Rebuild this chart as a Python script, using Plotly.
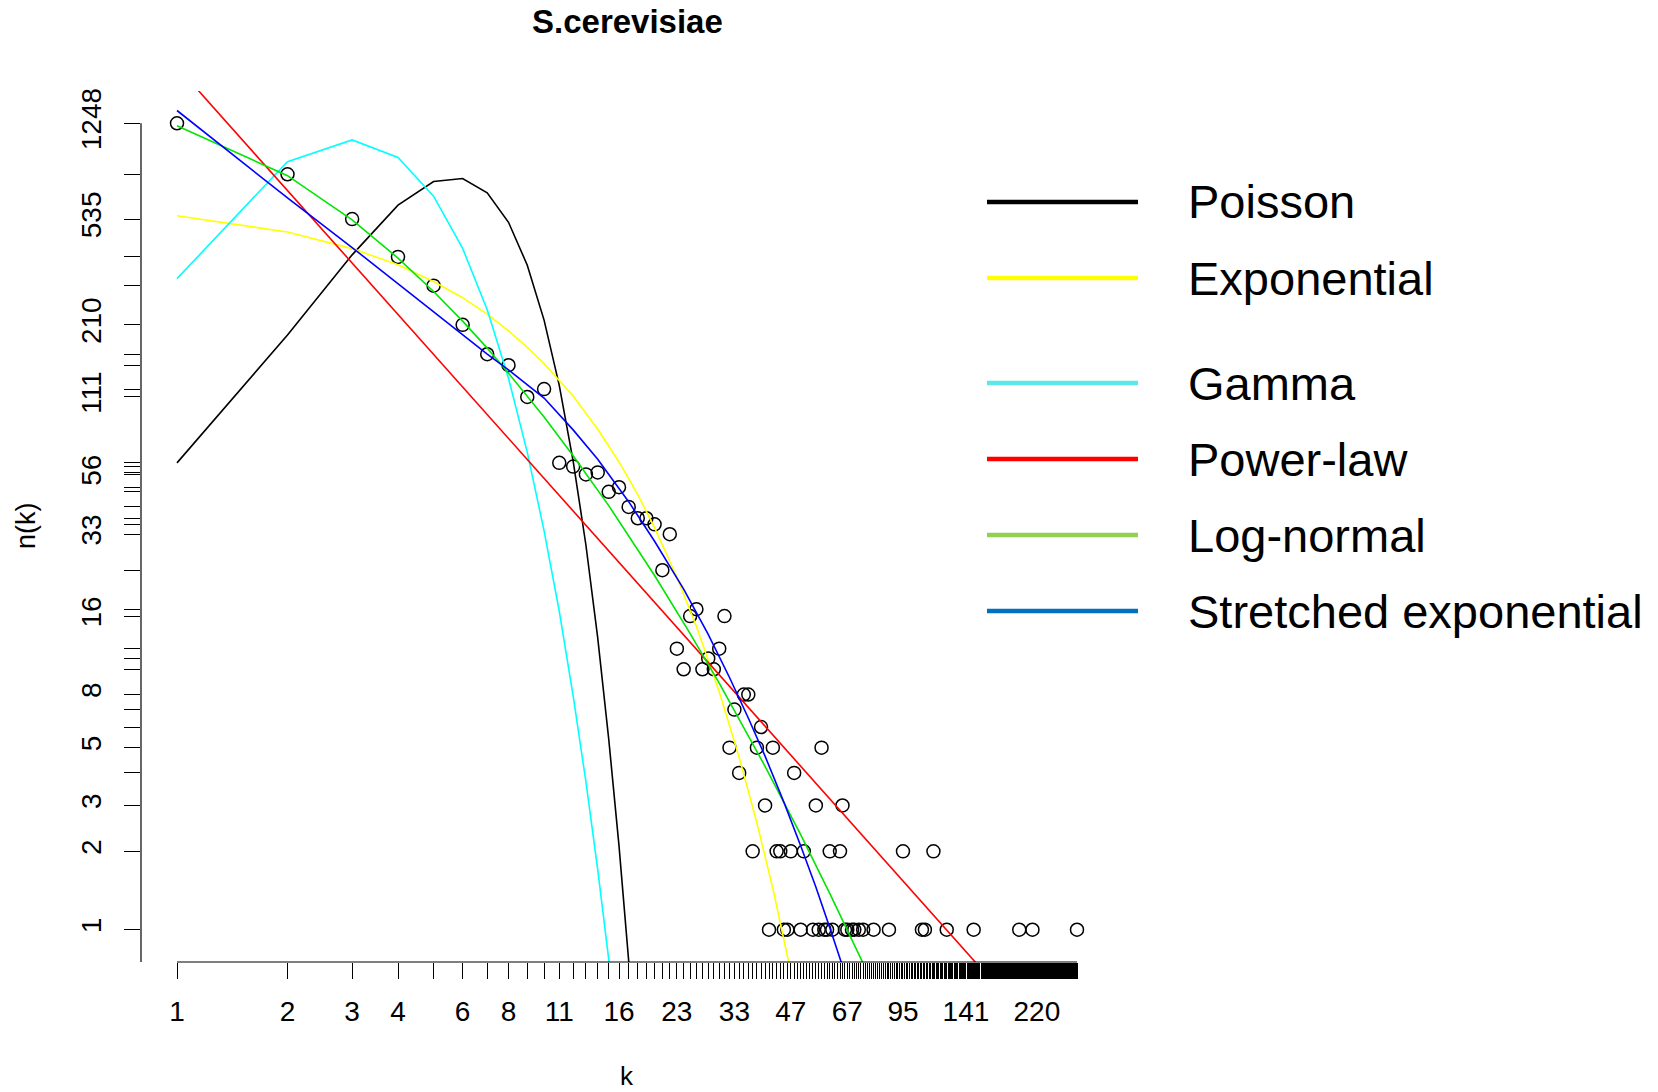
import math
import plotly.graph_objects as go

# ---- observed degree distribution n(k) ----
k_obs = [1, 2, 3, 4, 5, 6, 7, 8, 9, 10, 11, 12, 13, 14, 15, 16, 17, 18, 19, 20,
         21, 22, 23, 24, 25, 26, 27, 28, 29, 30, 31, 32, 33, 34, 35, 36, 37, 38, 39, 40,
         41, 42, 43, 44, 45, 46, 47, 48, 50, 51, 54, 55, 56, 57, 58, 59, 60, 61, 64, 65,
         66, 67, 69, 70, 72, 74, 79, 87, 95, 107, 109, 115, 125, 148, 197, 214, 283]
n_obs = [1248, 795, 535, 383, 297, 210, 162, 147, 111, 119, 62, 60, 56, 57, 48, 50, 42, 38, 38, 36,
         24, 33, 12, 10, 16, 17, 10, 11, 10, 12, 16, 5, 7, 4, 8, 8, 2, 5, 6, 3,
         1, 5, 2, 2, 1, 1, 2, 4, 1, 2, 1, 3, 1, 5, 1, 1, 2, 1, 2, 3,
         1, 1, 1, 1, 1, 1, 1, 1, 2, 1, 1, 2, 1, 1, 1, 1, 1]

# ---- fitted model curves ----
poisson_k = list(range(1, 19))
poisson_n = [62, 192, 390, 605, 746, 766, 675, 520, 356, 219, 123, 63, 30, 13.2, 5.4, 2.1, 0.76, 0.26]

exponential_k = [1, 2, 3, 4, 5, 6, 7, 8, 9, 10, 12, 14, 16, 18, 20, 23, 26, 30, 34, 38, 42, 46, 48]
exponential_n = [551, 477, 412, 357, 308, 267, 231, 199, 172, 149, 112, 83.5, 62.5, 46.8, 35.0,
                 22.6, 14.6, 8.2, 4.59, 2.57, 1.44, 0.80, 0.60]

gamma_k = list(range(1, 17))
gamma_n = [316, 889, 1077, 922, 655, 413, 240, 131, 68, 34, 16.7, 7.9, 3.7, 1.7, 0.77, 0.34]

powerlaw_k = [1, 2, 5, 10, 20, 50, 100, 150, 200, 283]
powerlaw_n = [2060, 689, 162, 54.1, 18.1, 4.25, 1.42, 0.75, 0.475, 0.274]

lognormal_k = [1, 2, 3, 4, 5, 6, 7, 8, 10, 12, 15, 20, 25, 30, 40, 50, 60, 70, 80]
lognormal_n = [1220, 785, 531, 379, 282, 217, 171, 137, 93, 66, 42.5, 22.9, 13.7, 8.85,
               4.24, 2.32, 1.38, 0.88, 0.59]

stretched_k = [1, 2, 3, 4, 5, 6, 7, 8, 10, 12, 14, 17, 20, 24, 28, 32, 36, 40, 45, 50, 55, 60, 65, 70]
stretched_n = [1397, 645, 416, 302, 235, 193, 162, 141, 110, 83, 64, 44, 31, 20.3, 13.6, 9.3,
               6.5, 4.64, 3.09, 2.10, 1.46, 1.02, 0.73, 0.53]

# ---- axis ticks ----
x_labels = [1, 2, 3, 4, 6, 8, 11, 16, 23, 33, 47, 67, 95, 141, 220]
y_labels = [1, 2, 3, 5, 8, 16, 33, 56, 111, 210, 535, 1248]

legend_names = ["Poisson", "Exponential", "Gamma", "Power-law", "Log-normal", "Stretched exponential"]
legend_colors = ["#000000", "#FFFF00", "#5CE8E8", "#FF0000", "#92D050", "#0070C0"]

# ---- page geometry ----
W, H = 1658, 1092
ML, MR, MT, MB = 141, 545, 91, 130
PW, PH = W - ML - MR, H - MT - MB
FONT = "Liberation Sans, Arial, sans-serif"


def px(x):
    return (x - ML) / PW


def py(y):
    return (H - MB - y) / PH


# log ranges padded by 4% on each side
kmax = max(k_obs)
lx0, lx1 = 0.0, math.log10(kmax)
dx = 0.04 * (lx1 - lx0)
xr = [lx0 - dx, lx1 + dx]
ly0, ly1 = math.log10(min(n_obs)), math.log10(max(n_obs))
dy = 0.04 * (ly1 - ly0)
yr = [ly0 - dy, ly1 + dy]

fig = go.Figure()

curves = [
    (poisson_k, poisson_n, "#000000"),
    (exponential_k, exponential_n, "#FFFF00"),
    (gamma_k, gamma_n, "#00FFFF"),
    (powerlaw_k, powerlaw_n, "#FF0000"),
    (lognormal_k, lognormal_n, "#00E600"),
    (stretched_k, stretched_n, "#0000FF"),
]

fig.add_trace(go.Scatter(
    x=k_obs, y=n_obs, mode="markers",
    marker=dict(symbol="circle-open", size=13, color="black", line=dict(width=1.5, color="black")),
    showlegend=False, hoverinfo="x+y",
))

for ks, ns, col in curves:
    fig.add_trace(go.Scatter(x=ks, y=ns, mode="lines", line=dict(color=col, width=1.6),
                             showlegend=False, hoverinfo="skip"))

x_ticks = list(range(1, kmax + 1))
x_text = [str(v) if v in x_labels else "" for v in x_ticks]
y_ticks = sorted(set(n_obs))
y_text = [str(v) if v in y_labels else "" for v in y_ticks]

fig.update_xaxes(
    type="log", range=xr, tickmode="array", tickvals=x_ticks, ticktext=x_text,
    ticks="outside", ticklen=16, tickwidth=1, tickcolor="black",
    showgrid=False, zeroline=False, showline=False, automargin=False,
    tickfont=dict(family=FONT, size=28, color="black"), ticklabelstandoff=8,
)
fig.update_yaxes(
    type="log", range=yr, tickmode="array", tickvals=y_ticks, ticktext=y_text,
    ticks="outside", ticklen=16, tickwidth=1, tickcolor="black", tickangle=-90,
    showgrid=False, zeroline=False, showline=False, automargin=False,
    tickfont=dict(family=FONT, size=28, color="black"), ticklabelstandoff=12,
)

shapes = []
# axis lines spanning the tick range
shapes.append(dict(type="line", xref="paper", yref="paper",
                   x0=(math.log10(1) - xr[0]) / (xr[1] - xr[0]),
                   x1=(math.log10(kmax) - xr[0]) / (xr[1] - xr[0]),
                   y0=0, y1=0, line=dict(color="black", width=1.2)))
shapes.append(dict(type="line", xref="paper", yref="paper", x0=0, x1=0,
                   y0=0, y1=(math.log10(max(n_obs)) - yr[0]) / (yr[1] - yr[0]),
                   line=dict(color="black", width=1.2)))

annotations = [
    dict(text="<b>S.cerevisiae</b>", x=px(627), y=py(21), xref="paper", yref="paper",
         showarrow=False, xanchor="center", yanchor="middle",
         font=dict(family=FONT, size=33, color="black")),
    dict(text="k", x=px(627), y=py(1076), xref="paper", yref="paper",
         showarrow=False, xanchor="center", yanchor="middle",
         font=dict(family=FONT, size=26, color="black")),
    dict(text="n(k)", x=px(26), y=py(526), xref="paper", yref="paper", textangle=-90,
         showarrow=False, xanchor="center", yanchor="middle",
         font=dict(family=FONT, size=27, color="black")),
]

legend_y = [202, 278, 383, 459, 535, 611]
for name, col, yy in zip(legend_names, legend_colors, legend_y):
    shapes.append(dict(type="line", xref="paper", yref="paper",
                       x0=px(987), x1=px(1138), y0=py(yy), y1=py(yy),
                       line=dict(color=col, width=4.5)))
    annotations.append(dict(text=name, x=px(1186), y=py(yy), xref="paper", yref="paper",
                            showarrow=False, xanchor="left", yanchor="middle",
                            font=dict(family=FONT, size=47, color="black")))

fig.update_layout(
    width=W, height=H,
    margin=dict(l=ML, r=MR, t=MT, b=MB),
    paper_bgcolor="white", plot_bgcolor="white",
    shapes=shapes, annotations=annotations, showlegend=False,
    font=dict(family=FONT),
)

fig.write_html("out.html")
